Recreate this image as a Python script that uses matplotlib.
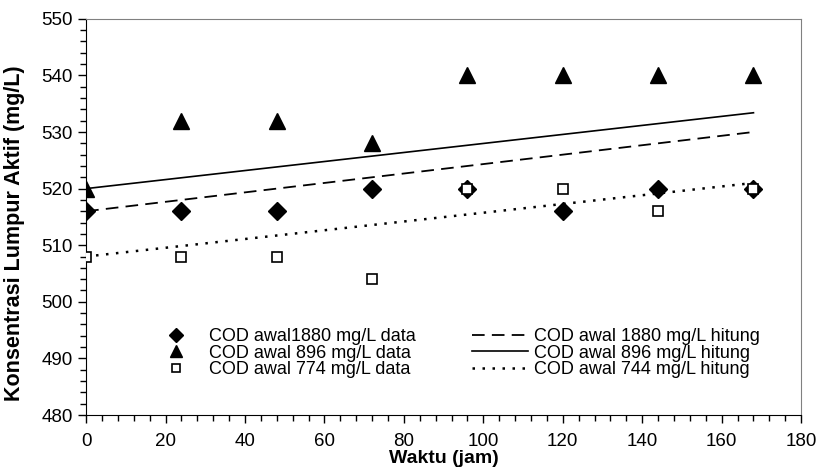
import numpy as np
import matplotlib.pyplot as plt
from matplotlib.ticker import MultipleLocator

plt.rcParams['font.family'] = ['Liberation Sans', 'DejaVu Sans']

waktu = [0, 24, 48, 72, 96, 120, 144, 168]
cod_1880 = [516, 516, 516, 520, 520, 516, 520, 520]
cod_896 = [520, 532, 532, 528, 540, 540, 540, 540]
cod_774 = [508, 508, 508, 504, 520, 520, 516, 520]

# garis hitung (awal dan akhir)
fit_x = [0, 168]
fit_1880 = [516, 530]
fit_896 = [520, 533.4]
fit_744 = [508, 521]

fig = plt.figure(figsize=(8.2, 4.7), dpi=100)
ax = fig.add_axes([0.105, 0.117, 0.872, 0.843])

h1, = ax.plot(waktu, cod_1880, linestyle='none', marker='D', ms=9, color='black',
              label='COD awal1880 mg/L data', zorder=3)
h2, = ax.plot(waktu, cod_896, linestyle='none', marker='^', ms=11, color='black',
              label='COD awal 896 mg/L data', zorder=3)
h3, = ax.plot(waktu, cod_774, linestyle='none', marker='s', ms=6.5, mfc='white',
              mec='black', mew=1.2, label='COD awal 774 mg/L data', zorder=4)
h4, = ax.plot(fit_x, fit_1880, color='black', lw=1.3, dashes=(7, 4),
              label='COD awal 1880 mg/L hitung')
h5, = ax.plot(fit_x, fit_896, color='black', lw=1.2, label='COD awal 896 mg/L hitung')
h6, = ax.plot(fit_x, fit_744, color='black', lw=1.8, dashes=(1, 3),
              label='COD awal 744 mg/L hitung')

ax.set_xlim(0, 180)
ax.set_ylim(480, 550)
ax.xaxis.set_major_locator(MultipleLocator(20))
ax.xaxis.set_minor_locator(MultipleLocator(4))
ax.yaxis.set_major_locator(MultipleLocator(10))
ax.yaxis.set_minor_locator(MultipleLocator(2))
ax.tick_params(which='major', length=6, width=1, labelsize=13.5, direction='out')
ax.tick_params(which='minor', length=4, width=1, direction='out')
ax.tick_params(axis='x', pad=7)

for s in ['top', 'right']:
    ax.spines[s].set_color('#808080')
for s in ['left', 'bottom']:
    ax.spines[s].set_color('black')

ax.set_xlabel('Waktu (jam)', fontsize=14, fontweight='bold')
ax.xaxis.set_label_coords(0.5, -0.088)
ax.set_ylabel('Konsentrasi Lumpur Aktif (mg/L)', fontsize=15.5, fontweight='bold')
ax.yaxis.set_label_coords(-0.085, 0.46)

ax.legend(handles=[h1, h2, h3, h4, h5, h6], ncol=2, frameon=False, fontsize=13,
          loc='lower left', bbox_to_anchor=(0.074, 0.07), labelspacing=-0.02,
          handlelength=3.1, handletextpad=0.3, columnspacing=3.1, borderpad=0,
          markerscale=0.82)

fig.savefig('out.png', dpi=100)
